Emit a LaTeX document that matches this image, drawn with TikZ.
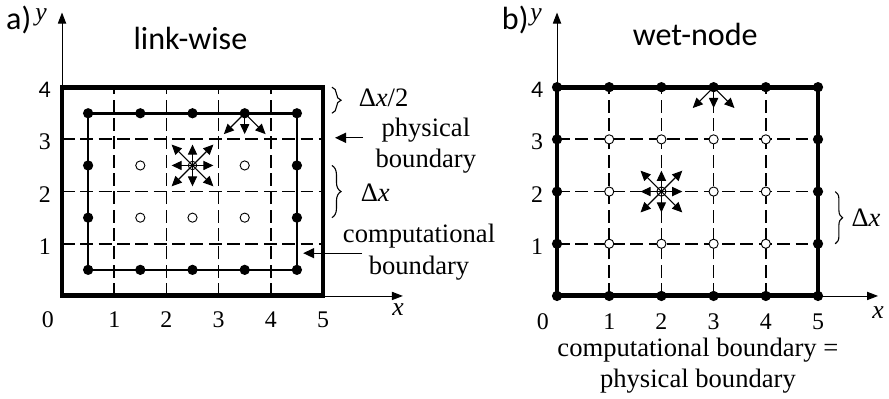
\documentclass[tikz,border=0pt]{standalone}
\usepackage{fontspec}
\setmainfont{Liberation Serif}
\newfontfamily\sansfont{Carlito}
\usetikzlibrary{arrows.meta,positioning,decorations.pathreplacing,calc}
\tikzset{
  physframe/.style={line width=2.7pt, line join=miter},
  compframe/.style={line width=1.4pt},
  gridline/.style={line width=0.95pt, dash pattern=on 7pt off 3pt},
  axis/.style={-{Triangle[length=6pt,width=4.5pt]}, line width=0.5pt},
  vel/.style={-{Triangle[length=5.5pt,width=5pt]}, line width=0.6pt},
  annarr/.style={-{Triangle[length=6pt,width=5.5pt]}, line width=0.7pt},
  fdot/.style={circle, fill=black, inner sep=0pt, minimum size=5.6pt},
  odot/.style={circle, draw, fill=white, inner sep=0pt, minimum size=5pt, line width=0.5pt},
  cdot/.style={circle, draw, inner sep=0pt, minimum size=4.6pt, line width=0.5pt},
  sanslbl/.style={font=\sansfont\fontsize{17.5}{20}\selectfont, inner sep=0pt},
  txtlbl/.style={font=\fontsize{14.5}{17}\selectfont, align=center, inner sep=0pt},
  ticklbl/.style={font=\fontsize{13}{15}\selectfont, inner sep=0pt},
  axlbl/.style={font=\fontsize{14}{16}\selectfont\itshape, inner sep=0pt},
  brc/.style={decorate, decoration={brace, amplitude=5pt}, line width=0.6pt}
}

\begin{document}
\begin{tikzpicture}
  \useasboundingbox (-1.188,-1.973) rectangle (15.843,5.670);

  % a) link-wise
  \begin{scope}
    \coordinate (oa) at (0,0);
    \coordinate (yatip) at (0,5.43);
    \coordinate (xatip) at (6.53,0);
    \draw[axis] (oa) -- (yatip);
    \draw[axis] (oa) -- (xatip);
    \foreach \i in {1,...,4}
      \draw[gridline] (\i,0) -- (\i,4);
    \foreach \j in {1,2,3}
      \draw[gridline] (0,\j) -- (5,\j);
    \draw[physframe] (0,0) rectangle (5,4);
    \draw[compframe] (0.5,0.5) rectangle (4.5,3.5);
    \foreach \i in {0,...,4} {
      \node[fdot] (abot\i) at (\i+0.5,0.5) {};
      \node[fdot] (atop\i) at (\i+0.5,3.5) {};
    }
    \foreach \j in {1,2} {
      \node[fdot] (aleft\j) at (0.5,\j+0.5) {};
      \node[fdot] (aright\j) at (4.5,\j+0.5) {};
    }
    \foreach \p/\q in {1/2,3/2,1/1,2/1,3/1}
      \node[odot] (ain\p\q) at (\p+0.5,\q+0.5) {};
    \node[cdot] (acen) at (2.5,2.5) {};
    \foreach \dx/\dy in {1/0,1/1,0/1,-1/1,-1/0,-1/-1,0/-1,1/-1}
      \draw[vel] (acen.center) -- ++(0.4*\dx,0.4*\dy);
    \foreach \dx in {-1,0,1}
      \draw[vel] (atop3.center) -- ++(0.4*\dx,-0.4);

    \node[sanslbl] (taga) at (-0.83,5.29) {a)};
    \node[axlbl] (ylbla) at (-0.40,5.34) {y};
    \node[axlbl] (xlbla) at (6.44,-0.27) {x};
    \node[sanslbl] (titlea) at (2.46,4.94) {link-wise};
    \node[ticklbl] (xa0) at (-0.27,-0.46) {0};
    \foreach \i in {1,...,5}
      \node[ticklbl] (xa\i) at (\i,-0.46) {\i};
    \foreach \j in {1,2,3}
      \node[ticklbl] (ya\j) at (-0.33,\j-0.05) {\j};
    \node[ticklbl, font=\sansfont\fontsize{13}{15}\selectfont] (ya4) at (-0.33,3.95) {4};

    \coordinate (bhtop) at (5.17,4);
    \coordinate (bhbot) at (5.17,3.5);
    \draw[brc] (bhtop) -- (bhbot);
    \node[txtlbl] (halflbl) at (6.16,3.8) {Δ\textit{x}/2};

    \coordinate (bdtop) at (5.17,2.5);
    \coordinate (bdbot) at (5.17,1.5);
    \draw[brc] (bdtop) -- (bdbot);
    \node[txtlbl] (dxlbla) at (6.0,1.97) {Δ\textit{x}};

    \node[txtlbl] (physlbl) at (6.97,2.88) {physical\\boundary};
    \coordinate (phystail) at (5.77,3.03);
    \coordinate (phystip) at (5.23,3.03);
    \draw[annarr] (phystail) -- (phystip);

    \node[txtlbl] (complbl) at (6.84,0.84) {computational\\boundary};
    \coordinate (comptail) at (5.75,0.82);
    \coordinate (comptip) at (4.62,0.82);
    \draw[annarr] (comptail) -- (comptip);
  \end{scope}

  % b) wet-node
  \begin{scope}[xshift=9.483cm]
    \coordinate (ob) at (0,0);
    \coordinate (ybtip) at (0,5.43);
    \coordinate (xbtip) at (6.15,0);
    \draw[axis] (ob) -- (ybtip);
    \draw[axis] (ob) -- (xbtip);
    \foreach \i in {1,...,4}
      \draw[gridline] (\i,0) -- (\i,4);
    \foreach \j in {1,2,3}
      \draw[gridline] (0,\j) -- (5,\j);
    \draw[physframe] (0,0) rectangle (5,4);
    \foreach \i in {0,...,5} {
      \node[fdot] (bbot\i) at (\i,0) {};
      \node[fdot] (btop\i) at (\i,4) {};
    }
    \foreach \j in {1,2,3} {
      \node[fdot] (bleft\j) at (0,\j) {};
      \node[fdot] (bright\j) at (5,\j) {};
    }
    \foreach \p/\q in {1/3,2/3,3/3,4/3,1/2,3/2,4/2,1/1,2/1,3/1,4/1}
      \node[odot] (bin\p\q) at (\p,\q) {};
    \node[odot] (bcen) at (2,2) {};
    \foreach \dx/\dy in {1/0,1/1,0/1,-1/1,-1/0,-1/-1,0/-1,1/-1}
      \draw[vel] (bcen.center) -- ++(0.4*\dx,0.4*\dy);
    \foreach \dx in {-1,0,1}
      \draw[vel] (btop3.center) -- ++(0.4*\dx,-0.4);

    \node[sanslbl] (tagb) at (-0.80,5.29) {b)};
    \node[axlbl] (ylblb) at (-0.40,5.34) {y};
    \node[axlbl] (xlblb) at (6.15,-0.31) {x};
    \node[sanslbl] (titleb) at (2.65,5.0) {wet-node};
    \node[ticklbl] (xb0) at (-0.27,-0.5) {0};
    \foreach \i in {1,...,5}
      \node[ticklbl] (xb\i) at (\i,-0.5) {\i};
    \foreach \j in {1,2,3}
      \node[ticklbl] (yb\j) at (-0.38,\j-0.05) {\j};
    \node[ticklbl, font=\sansfont\fontsize{13}{15}\selectfont] (yb4) at (-0.38,3.95) {4};

    \coordinate (bbtop) at (5.33,2);
    \coordinate (bbbot) at (5.33,1);
    \draw[brc, decoration={brace, amplitude=4pt}] (bbtop) -- (bbbot);
    \node[txtlbl] (dxlblb) at (5.92,1.5) {Δ\textit{x}};

    \node[txtlbl] (bothlbl) at (2.70,-1.34) {computational boundary =\\physical boundary};
  \end{scope}
\end{tikzpicture}
\end{document}
